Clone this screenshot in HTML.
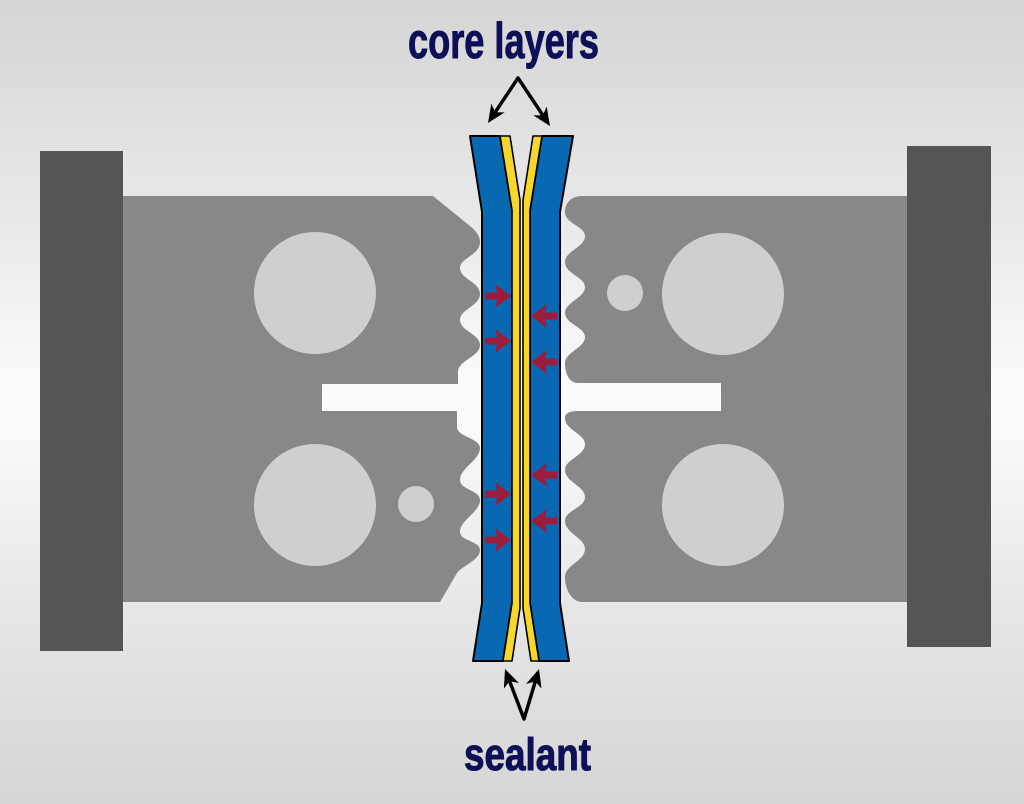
<!DOCTYPE html>
<html>
<head>
<meta charset="utf-8">
<style>
  html,body{margin:0;padding:0;width:1024px;height:804px;overflow:hidden;background:#e8e8e8;}
  svg{display:block;}
  text{font-family:"Liberation Sans", "DejaVu Sans", sans-serif;font-weight:bold;}
</style>
</head>
<body>
<svg width="1024" height="804" viewBox="0 0 1024 804" xmlns="http://www.w3.org/2000/svg">
  <defs>
    <linearGradient id="bg" x1="0" y1="0" x2="0" y2="1">
      <stop offset="0" stop-color="#d5d5d5"/>
      <stop offset="0.25" stop-color="#e7e7e7"/>
      <stop offset="0.5" stop-color="#fcfcfc"/>
      <stop offset="0.75" stop-color="#e7e7e7"/>
      <stop offset="1" stop-color="#d5d5d5"/>
    </linearGradient>
  </defs>
  <rect x="0" y="0" width="1024" height="804" fill="url(#bg)"/>

  <!-- dark end bars -->
  <rect x="40" y="151" width="83" height="500" fill="#555555"/>
  <rect x="907" y="146" width="84" height="501" fill="#555555"/>

  <!-- left clamp -->
  <path fill="#888888" d="M123,196 H433 L470,226
    C476,231 480,236 480,242
    C480,255 460,258 460,268
    C460,279 480,282 480,294
    C480,306 460,309 460,320
    C460,331 480,334 480,345
    C480,357 458,360 458,372
    V384 H322 V411 H457 V427
    C457,437 480,438 480,448
    C480,460 460,468 460,480
    C460,490 480,490 480,500
    C480,512 460,520 460,532
    C460,541 480,541 480,550
    C480,560 462,566 457,573
    L440,602 H123 Z"/>

  <!-- right clamp -->
  <path fill="#888888" d="M907,196 H582
    C571,196 565,203 565,212
    C565,224 585,226 585,236
    C585,247 565,251 565,262
    C565,274 585,277 585,287
    C585,298 565,302 565,313
    C565,324 585,327 585,337
    C585,348 565,352 565,363
    C565,375 570,383 578,383
    H721 V411 H578
    C570,411 565,413 565,418
    C565,430 585,434 585,444
    C585,456 565,459 565,470
    C565,482 585,486 585,497
    C585,508 565,510 565,521
    C565,533 585,538 585,549
    C585,561 565,565 565,577
    C565,590 572,602 582,602
    H907 Z"/>

  <!-- circles -->
  <g fill="#cfcfcf">
    <circle cx="315" cy="293" r="61"/>
    <circle cx="315" cy="505" r="61"/>
    <circle cx="416" cy="504" r="18"/>
    <circle cx="625" cy="293" r="18"/>
    <circle cx="723" cy="294" r="61"/>
    <circle cx="723" cy="505" r="61"/>
  </g>

  <!-- strip layers -->
  <g stroke="#000" stroke-linejoin="round">
    <polygon fill="#0868b2" stroke-width="2" points="470,136 500,136 512,210 512,603 503,661 473,661 482,603 482,212"/>
    <polygon fill="#0868b2" stroke-width="2" points="542,136 573,136 560,212 560,603 569,661 539,661 530,603 530,210"/>
    <polygon fill="#f6d72a" stroke-width="1.6" points="500,136 510,136 520,200 520,608 512,661 503,661 512,603 512,210"/>
    <polygon fill="#f6d72a" stroke-width="1.6" points="533,136 542,136 530,210 530,603 539,661 531,661 523,608 523,200"/>
  </g>

  <!-- red arrows -->
  <g fill="#9c1c3c">
    <polygon points="485,292.5 497,292.5 495,284 511,296 495,308 497,299.5 485,299.5"/>
    <polygon points="485,337.5 497,337.5 495,329 511,341 495,353 497,344.5 485,344.5"/>
    <polygon points="485,490.5 497,490.5 495,482 511,494 495,506 497,497.5 485,497.5"/>
    <polygon points="485,536.5 497,536.5 495,528 511,540 495,552 497,543.5 485,543.5"/>

    <polygon points="557,312.5 545,312.5 547,304 531,316 547,328 545,319.5 557,319.5"/>
    <polygon points="557,358.5 545,358.5 547,350 531,362 547,374 545,365.5 557,365.5"/>
    <polygon points="557,471.5 545,471.5 547,463 531,475 547,487 545,478.5 557,478.5"/>
    <polygon points="557,517.5 545,517.5 547,509 531,521 547,533 545,524.5 557,524.5"/>
  </g>

  <!-- black arrows -->
  <g stroke="#000" stroke-width="3.5" fill="none" stroke-linecap="round" stroke-linejoin="round">
    <polyline points="495.2,112.2 518,78 542.8,115.2"/>
    <polyline points="509.6,681.2 524,719 535.3,681.5"/>
  </g>
  <g fill="#000">
    <polygon points="488,123 504.7,112.4 495.2,112.2 491.3,103.6"/>
    <polygon points="550,126 546.7,106.6 542.8,115.2 533.3,115.4"/>
    <polygon points="505,669 518.9,683 509.6,681.2 503.9,688.6"/>
    <polygon points="539,669 541.5,688.5 535.3,681.5 526.1,683.9"/>
  </g>

  <!-- labels -->
  <text x="408" y="58" font-size="50" fill="#0e1057" stroke="#0e1057" stroke-width="1" textLength="191" lengthAdjust="spacingAndGlyphs">core layers</text>
  <text x="464" y="770" font-size="45" fill="#0e1057" stroke="#0e1057" stroke-width="1" textLength="127" lengthAdjust="spacingAndGlyphs">sealant</text>
</svg>
</body>
</html>
